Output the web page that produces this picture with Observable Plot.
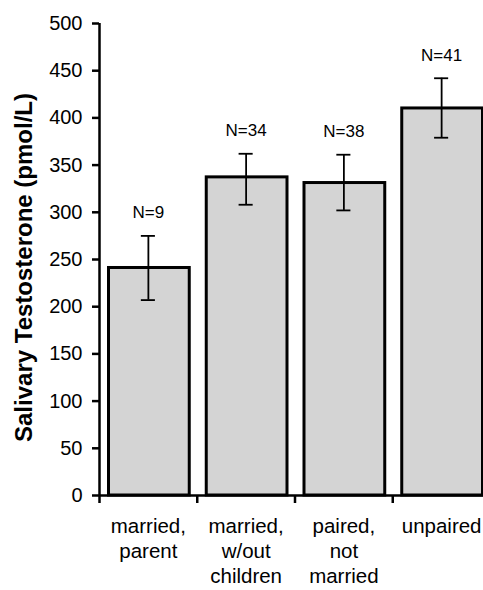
<!DOCTYPE html>
<html>
<head>
<meta charset="utf-8">
<script src="https://cdn.jsdelivr.net/npm/d3@7"></script>
<script src="https://cdn.jsdelivr.net/npm/@observablehq/plot@0.6"></script>
<style>
  html, body { margin: 0; padding: 0; background: #fff; }
  #chart { width: 483px; height: 590px; overflow: hidden; }
  svg { font-family: "Liberation Sans", Arial, sans-serif; }
</style>
</head>
<body>
<div id="chart"></div>
<script>
const categories = ["married,\nparent", "married,\nw/out\nchildren", "paired,\nnot\nmarried", "unpaired"];
const means = [241, 337, 331, 410];
const upper = [275, 362, 361, 442];
const lower = [207, 308, 302, 379];
const nLabels = ["N=9", "N=34", "N=38", "N=41"];
const yTicks = [0, 50, 100, 150, 200, 250, 300, 350, 400, 450, 500];
const yLabel = "Salivary Testosterone (pmol/L)";

const data = categories.map((c, i) => ({
  i, cat: c, mean: means[i], hi: upper[i], lo: lower[i], n: nLabels[i]
}));
const boundaries = d3.range(categories.length + 1);
const cap = 0.072;

const chart = Plot.plot({
  width: 483,
  height: 590,
  marginLeft: 99,
  marginRight: -7,
  marginTop: 23,
  marginBottom: 95,
  style: { fontFamily: "'Liberation Sans', Arial, sans-serif", background: "#fff", color: "#000", overflow: "visible" },
  x: { type: "linear", domain: [0, categories.length], axis: null },
  y: { domain: [0, 500], axis: null },
  marks: [
    Plot.rectY(data, { x1: d => d.i, x2: d => d.i + 1, y1: 0, y2: "mean", insetLeft: 9.5, insetRight: 7.5, fill: "#d4d4d4", stroke: "#000", strokeWidth: 3 }),
    Plot.ruleX(data, { x: d => d.i + 0.5, y1: "lo", y2: "hi", stroke: "#000", strokeWidth: 1.8 }),
    Plot.ruleY(data, { y: "hi", x1: d => d.i + 0.5 - cap, x2: d => d.i + 0.5 + cap, stroke: "#000", strokeWidth: 1.8 }),
    Plot.ruleY(data, { y: "lo", x1: d => d.i + 0.5 - cap, x2: d => d.i + 0.5 + cap, stroke: "#000", strokeWidth: 1.8 }),
    Plot.text(data, { x: d => d.i + 0.5, y: "hi", text: "n", dy: -23, fontSize: 17, fill: "#000" }),
    // axes
    Plot.ruleX([0], { y1: 0, y2: 500, stroke: "#000", strokeWidth: 2.5 }),
    Plot.ruleY([0], { x1: 0, x2: categories.length, stroke: "#000", strokeWidth: 2.5 }),
    Plot.axisY({ ticks: yTicks, tickSize: 7, tickFormat: () => "", strokeWidth: 2.5, label: null }),
    Plot.text(yTicks, { x: 0, y: d => d, text: d => String(d), textAnchor: "end", dx: -17, fontSize: 20, fill: "#000" }),
    Plot.axisX({ ticks: boundaries, tickSize: 8, tickFormat: () => "", strokeWidth: 2.5, label: null }),
    Plot.text(data, { x: d => d.i + 0.5, y: 0, text: "cat", dy: 20, lineAnchor: "top", lineHeight: 1.22, fontSize: 20.5, fill: "#000" }),
    Plot.text([yLabel], { frameAnchor: "left", textAnchor: "middle", rotate: -90, dx: -75, dy: 8, fontSize: 24, fontWeight: "bold", fill: "#000" })
  ]
});
document.getElementById("chart").appendChild(chart);
</script>
</body>
</html>
